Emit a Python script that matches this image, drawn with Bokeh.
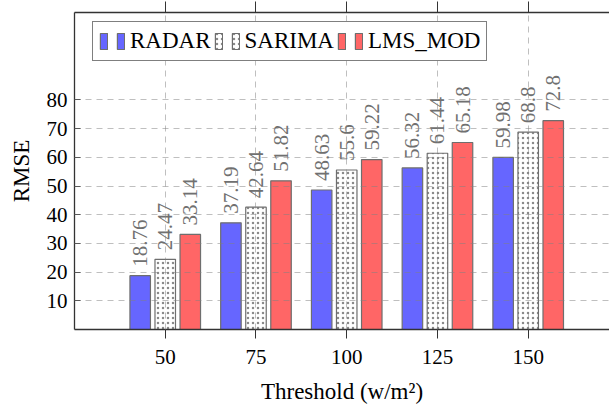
import numpy as np
from bokeh.plotting import figure
from bokeh.models import (ColumnDataSource, FixedTicker, Range1d, LinearAxis,
                          Legend, LegendItem)
from bokeh.transform import dodge
from bokeh.core.properties import value
from bokeh.embed import file_html
from bokeh.resources import INLINE

# ---- data ----
thresholds = [50, 75, 100, 125, 150]
radar = [18.76, 37.19, 48.63, 56.32, 59.98]
sarima = [24.47, 42.64, 55.6, 61.44, 68.8]
lms_mod = [33.14, 51.82, 59.22, 65.18, 72.8]
series_names = ["RADAR", "SARIMA", "LMS_MOD"]
y_ticks = [10, 20, 30, 40, 50, 60, 70, 80]
x_label = "Threshold (w/m\u00b2)"
y_label = "RMSE"

FONT = "Liberation Serif"
BAR_W = 5.65
OFF = 6.9

src = ColumnDataSource(dict(
    x=thresholds,
    radar=radar, sarima=sarima, lms=lms_mod,
    radar_t=[str(v) for v in radar],
    sarima_t=[str(v) for v in sarima],
    lms_t=[str(v) for v in lms_mod],
))

p = figure(width=609, height=409,
           x_range=Range1d(25, 172.4), y_range=Range1d(0, 110.5),
           output_backend="svg", toolbar_location=None,
           min_border_left=74, min_border_top=12, min_border_right=0,
           min_border_bottom=80,
           x_axis_label=x_label, y_axis_label=y_label)
p.outline_line_color = None
p.background_fill_color = "white"
p.border_fill_color = "white"

# grids (drawn on top of bars, as in the reference)
for g, t in ((p.xgrid, thresholds), (p.ygrid, y_ticks)):
    g.ticker = FixedTicker(ticks=t)
    g.grid_line_color = "#808080"
    g.grid_line_alpha = 0.5
    g.grid_line_dash = "6 5"
    g.grid_line_width = 1
    g.level = "overlay"

# axes
ax_col = "#333333"
yax = p.yaxis[0]
yax.ticker = FixedTicker(ticks=y_ticks)
yax.major_tick_in = 6
yax.major_tick_out = 0
yax.minor_tick_line_color = None
yax.major_label_standoff = 7
yax.axis_label_standoff = 10
xax = p.xaxis[0]
xax.ticker = FixedTicker(ticks=thresholds)
xax.major_tick_in = 0
xax.major_tick_out = 9
xax.minor_tick_line_color = None
xax.major_label_standoff = 11
xax.axis_label_standoff = 12
for ax in (xax, yax):
    ax.axis_line_color = ax_col
    ax.axis_line_width = 1.3
    ax.major_tick_line_color = ax_col
    ax.major_label_text_font = FONT
    ax.major_label_text_font_size = "21px"
    ax.major_label_text_color = "black"
    ax.axis_label_text_font = FONT
    ax.axis_label_text_font_size = "23px"
    ax.axis_label_text_font_style = "normal"
    ax.axis_label_text_color = "black"

# top frame line with outward ticks, no labels
top = LinearAxis(ticker=FixedTicker(ticks=thresholds))
top.major_tick_in = 0
top.major_tick_out = 11
top.minor_tick_line_color = None
top.major_label_text_font_size = "1px"
top.major_label_text_color = None
top.major_label_standoff = 0
top.axis_line_color = ax_col
top.axis_line_width = 1.3
top.major_tick_line_color = ax_col
p.add_layout(top, "above")

# bars
specs = [
    ("radar", -OFF, dict(fill_color="#6666FF")),
    ("sarima", 0.0, dict(fill_color="white", hatch_pattern="dot",
                         hatch_color="#8a8a8a", hatch_scale=5, hatch_weight=1)),
    ("lms", OFF, dict(fill_color="#FF6666")),
]
bar_renderers = []
for key, off, style in specs:
    r = p.vbar(x=dodge("x", off, range=p.x_range), top=key, width=BAR_W,
               source=src, line_color="#6e6e6e", line_width=1.2, **style)
    bar_renderers.append(r)
    p.text(x=dodge("x", off, range=p.x_range), y=key, text=key + "_t",
           source=src, angle=np.pi / 2, text_align="left",
           text_baseline="middle", y_offset=-9,
           text_font=value(FONT), text_font_size="21px",
           text_color="#707070")

# legend: each entry shows two small bars (pgfplots style) then its name
items = []
for n, r in zip(series_names, bar_renderers):
    items.append(LegendItem(label="", renderers=[r]))
    items.append(LegendItem(label=n, renderers=[r]))
legend = Legend(items=items, orientation="horizontal",
                location=(18, 268),
                label_text_font=FONT, label_text_font_size="23px",
                label_text_color="black",
                glyph_width=9, glyph_height=20, label_standoff=5,
                label_width=0, spacing=3, padding=6, margin=0,
                border_line_color="black", border_line_width=1.2,
                background_fill_color="white", background_fill_alpha=1.0)
p.add_layout(legend, "center")

open("out.html", "w").write(file_html(p, INLINE))
